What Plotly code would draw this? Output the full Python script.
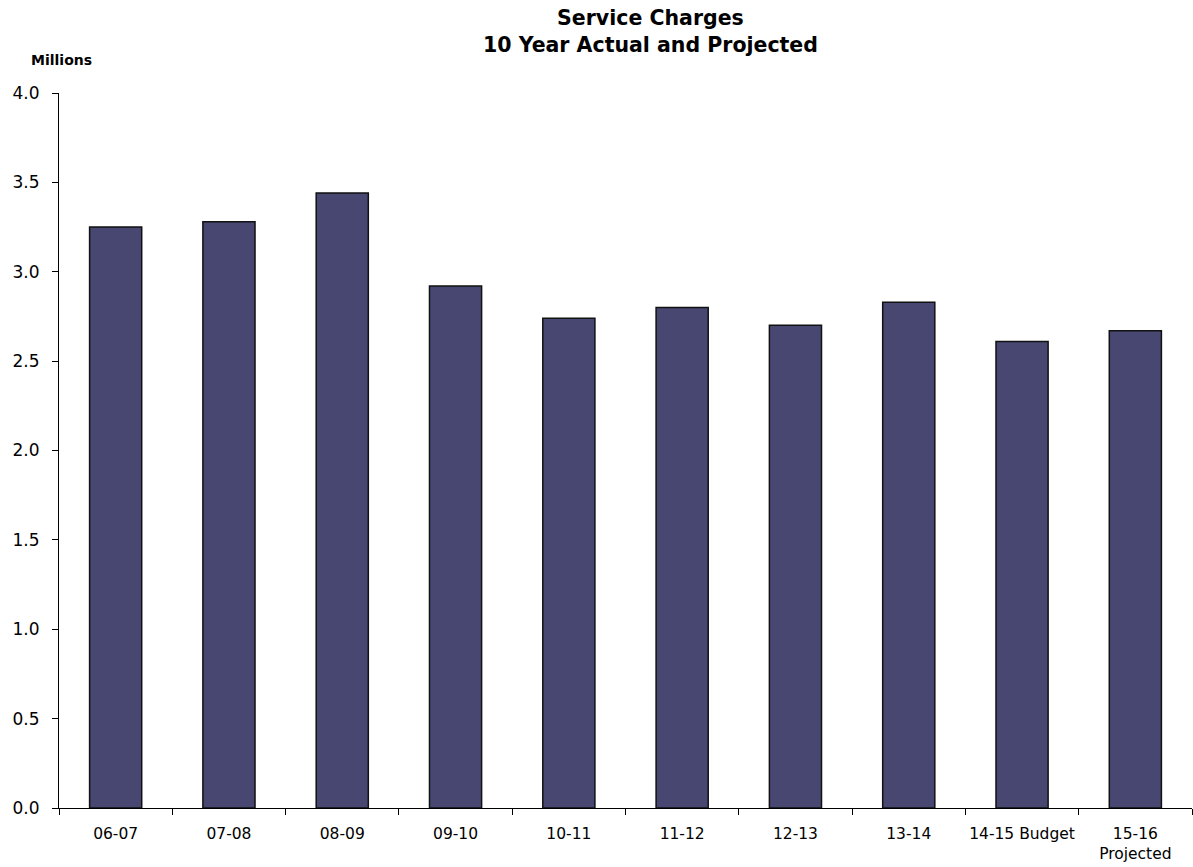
import plotly.graph_objects as go

# Fiscal years and service charge revenue (millions)
years = ["06-07", "07-08", "08-09", "09-10", "10-11", "11-12", "12-13",
         "13-14", "14-15 Budget", "15-16<br>Projected"]
charges = [3.25, 3.28, 3.44, 2.92, 2.74, 2.80, 2.70, 2.83, 2.61, 2.67]

y_ticks = [0.0, 0.5, 1.0, 1.5, 2.0, 2.5, 3.0, 3.5, 4.0]
y_tick_text = [f"{v:.1f}" for v in y_ticks]

FONT = "DejaVu Sans"
W, H = 1193, 867
ML, MR, MT, MB = 59, 1, 93, 59
plot_w = W - ML - MR
plot_h = H - MT - MB


def px_x(px):
    return (px - ML) / plot_w


def px_y(py):
    return (H - MB - py) / plot_h


fig = go.Figure(
    go.Bar(
        x=years,
        y=charges,
        marker=dict(color="#474772", line=dict(color="#111111", width=1.5)),
        width=0.46,
        hoverinfo="x+y",
    )
)

fig.update_layout(
    width=W,
    height=H,
    margin=dict(l=ML, r=MR, t=MT, b=MB, autoexpand=False),
    paper_bgcolor="white",
    plot_bgcolor="white",
    showlegend=False,
    font=dict(family=FONT, color="black"),
)

fig.add_annotation(
    text="<b>Service Charges</b><br><b>10 Year Actual and Projected</b>",
    x=px_x(650), xref="paper", xanchor="center",
    y=px_y(31), yref="paper", yanchor="middle",
    showarrow=False, align="center",
    font=dict(family=FONT, size=20.5, color="black"),
)
fig.add_annotation(
    text="<b>Millions</b>",
    x=px_x(61), xref="paper", xanchor="center",
    y=px_y(60), yref="paper", yanchor="middle",
    showarrow=False,
    font=dict(family=FONT, size=14, color="black"),
)

fig.update_xaxes(
    type="category",
    showline=True, linecolor="black", linewidth=1.2,
    ticks="outside", ticklen=6, tickcolor="black", tickwidth=1.2,
    tickson="boundaries",
    tickangle=0,
    automargin=False,
    ticklabelstandoff=11,
    tickfont=dict(family=FONT, size=15.5, color="black"),
    showgrid=False, zeroline=False,
    fixedrange=True,
)
fig.update_yaxes(
    range=[0, 4.0],
    tickvals=y_ticks, ticktext=y_tick_text,
    showline=True, linecolor="black", linewidth=1.2,
    ticks="outside", ticklen=6, tickcolor="black", tickwidth=1.2,
    automargin=False,
    ticklabelstandoff=9,
    tickfont=dict(family=FONT, size=17, color="black"),
    showgrid=False, zeroline=False,
    fixedrange=True,
)

fig.write_html("out.html")
